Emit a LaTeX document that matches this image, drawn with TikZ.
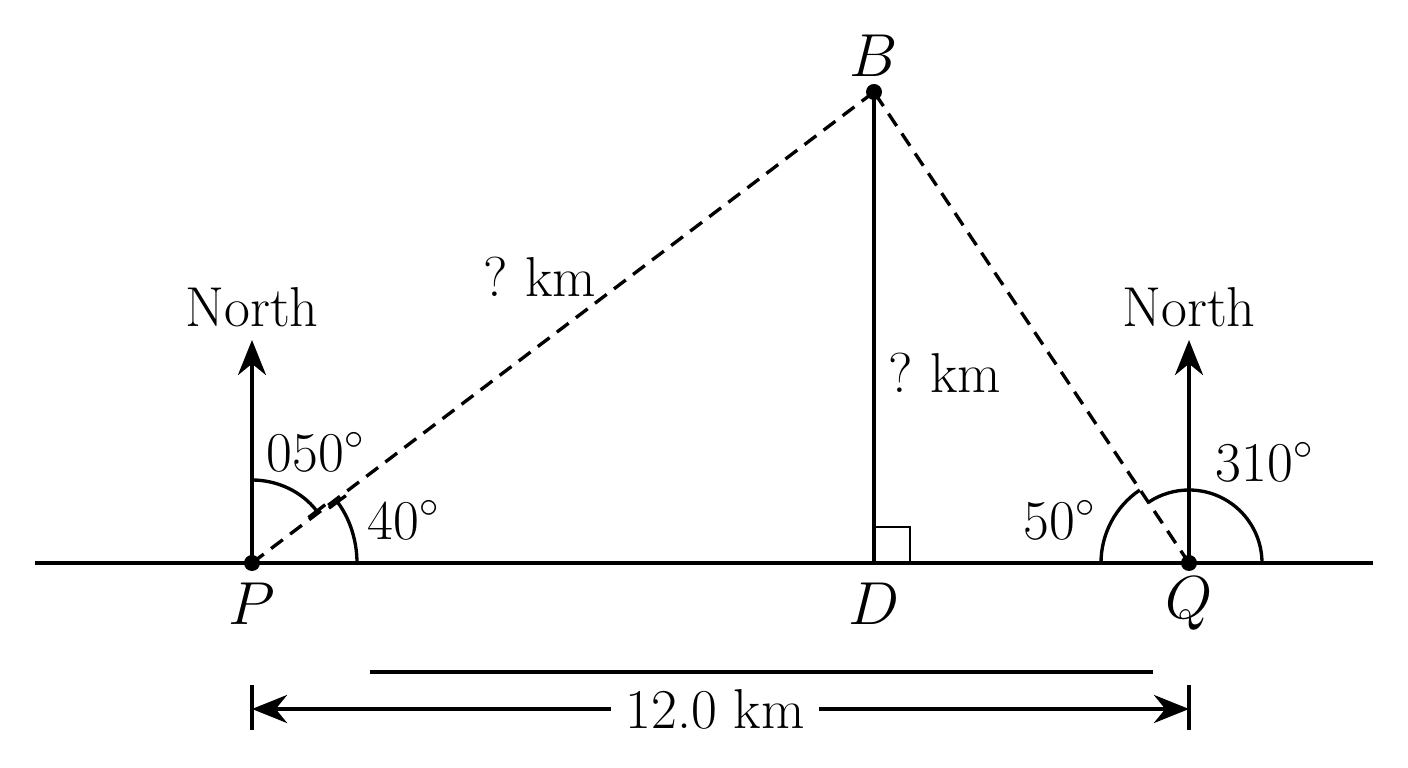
\documentclass[tikz,border=0pt]{standalone}
\usepackage{tikz}
\usetikzlibrary{arrows.meta}
\usetikzlibrary{positioning}
\tikzset{>={Stealth[length=10pt,width=8pt]}}
\tikzset{bearing/.style={-{Bar[width=6pt]}}}
\tikzset{dashline/.style={dash pattern=on 4.2pt off 2.6pt}}

\begin{document}
\begin{tikzpicture}[line width=0.95pt, font=\fontsize{16}{19}\selectfont]
    \useasboundingbox (-2.52,-2.05) rectangle (11.56,5.63);

    \coordinate (P) at (0,0);
    \coordinate (Q) at (9.37,0);
    \coordinate (B) at (6.22,4.71);
    \coordinate (D) at (6.22,0);
    \coordinate (Pn) at (0,2.23);
    \coordinate (Qn) at (9.37,2.23);

    % ground and north lines
    \draw (-2.17,0) -- (11.21,0);
    \draw [->] (P) -- (Pn);
    \draw [->] (Q) -- (Qn);

    \draw [dashline] (P) -- (B);
    \draw [dashline] (Q) -- (B);
    \draw (B) -- (D);
    \draw [line width=0.8pt] (D) ++(0,0.36) -| ++(0.36,-0.36);

    % angles
    \draw [bearing] (P) ++(90:0.83) arc (90:37.5:0.83);
    \draw [bearing] (P) ++(0:1.05) arc (0:36.5:1.05);
    \draw (Q) ++(180:0.88) arc (180:124:0.88);
    \draw (Q) ++(0:0.73) arc (0:124:0.73);

    \fill (P) circle (0.08);
    \fill (Q) circle (0.08);
    \fill (B) circle (0.08);

    \node (labB) at (6.22,5.07) {$B$};
    \node (labP) at (0,-0.41) {$P$};
    \node (labD) at (6.22,-0.41) {$D$};
    \node (labQ) at (9.37,-0.41) {$Q$};
    \node (northP) at (0,2.56) {North};
    \node (northQ) at (9.37,2.56) {North};
    \node (distPB) at (2.88,2.86) {?\ km};
    \node (distBD) at (6.93,1.90) {?\ km};
    \node (angN) at (0.64,1.11) {050$^\circ$};
    \node (angP) at (1.52,0.43) {40$^\circ$};
    \node (angQ) at (8.08,0.43) {50$^\circ$};
    \node (angS) at (10.13,1.01) {310$^\circ$};

    % distance P to Q
    \coordinate (Pd) at (0,-1.46);
    \coordinate (Qd) at (9.37,-1.46);
    \draw (1.18,-1.09) -- (9.01,-1.09);
    \draw (0,-1.22) -- (0,-1.67);
    \draw (9.37,-1.22) -- (9.37,-1.67);
    \draw [<->] (Pd) -- (Qd);
    \node [fill=white, inner xsep=4pt] (dist) at (4.63,-1.46) {12.0 km};

\end{tikzpicture}
\end{document}
